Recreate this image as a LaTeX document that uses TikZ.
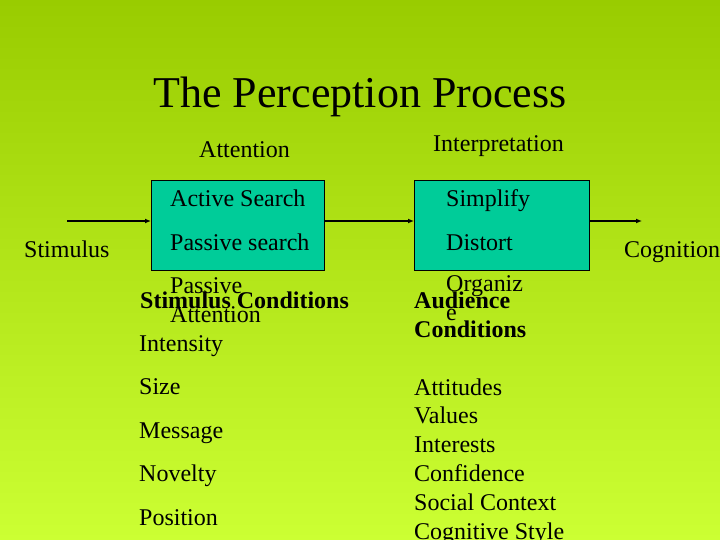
\documentclass[tikz,border=0pt]{standalone}
\usepackage{fontspec}
\setmainfont{Liberation Serif}
\usetikzlibrary{arrows.meta}
\definecolor{topgreen}{RGB}{153,204,0}
\definecolor{lowgreen}{RGB}{204,255,51}
\definecolor{boxteal}{RGB}{0,204,153}
\tikzset{
  txt/.style = {anchor=base west, inner sep=0pt, font=\fontsize{24}{29}\selectfont, align=left},
  hd/.style = {txt, font=\fontsize{24}{29}\bfseries\selectfont},
  procbox/.style = {draw=black, line width=1pt, fill=boxteal, inner sep=0pt, anchor=north west},
  flow/.style = {line width=1.5pt, -{Latex[length=6pt,width=5pt]}}
}
\begin{document}
\begin{tikzpicture}[x=1pt, y=-1pt]
\shade[top color=topgreen, bottom color=lowgreen] (0,0) rectangle (720,540);
\useasboundingbox (0,0) rectangle (720,540);
% title and column heads
\node[anchor=base, inner sep=0pt, font=\fontsize{44}{50}\selectfont] (title) at (360,108) {The Perception Process};
\node[txt] (atthead) at (199,158) {Attention};
\node[txt] (inthead) at (433,152) {Interpretation};
% the two boxes
\node[procbox, minimum width=173pt, minimum height=90pt] (attbox) at (151,180) {};
\node[procbox, minimum width=175pt, minimum height=90pt] (intbox) at (414,180) {};
% box contents (base = last line)
\node[txt] (active) at (170,207) {Active Search};
\node[txt] (passive) at (170,250) {Passive search};
\node[txt] (passatt) at (170,322) {Passive\\Attention};
\node[txt] (simplify) at (446,207) {Simplify};
\node[txt] (distort) at (446,250) {Distort};
\node[txt] (organize) at (446,320) {Organiz\\e};
% flow
\node[txt] (stim) at (24,257) {Stimulus};
\node[txt] (cogn) at (624,257) {Cognition};
\coordinate (in) at (67,221);
\coordinate (out) at (642,221);
\draw[flow] (in) -- (in -| attbox.west);
\draw[flow] (attbox.east |- in) -- (intbox.west |- in);
\draw[flow] (intbox.east |- in) -- (out);
% conditions
\node[hd] (stimcond) at (140,308) {Stimulus Conditions};
\foreach \item [count=\i] in {Intensity, Size, Message, Novelty, Position}
{
	\node[txt] (sc\i) at (139,{308+43.4*\i}) {\item};
}
\node[hd] (audcond) at (414,337) {Audience\\Conditions};
\foreach \item [count=\i] in {Attitudes, Values, Interests, Confidence, Social Context, Cognitive Style}
{
	\node[txt] (ac\i) at (414,{395+28.8*(\i-1)}) {\item};
}
\end{tikzpicture}
\end{document}
